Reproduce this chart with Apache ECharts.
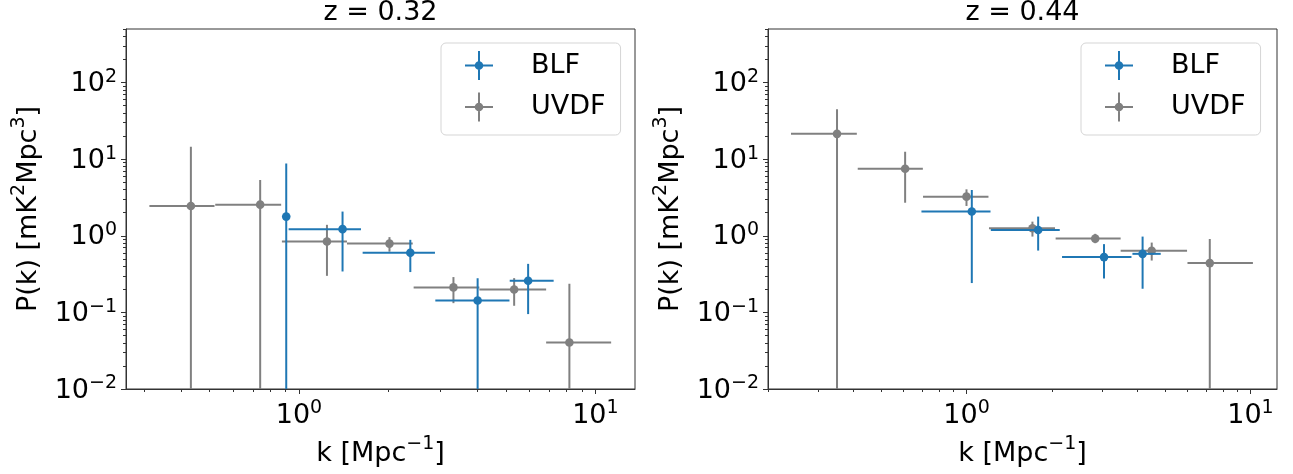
<!DOCTYPE html>
<html><head><meta charset="utf-8">
<script src="https://cdn.jsdelivr.net/npm/echarts@6/dist/echarts.min.js"></script>
<style>html,body{margin:0;padding:0;background:#fff}#c{width:1293px;height:474px}</style>
</head><body><div id="c"></div>
<script>
// ---------- labels ----------
const panelTitles = ['z = 0.32', 'z = 0.44'];
const seriesNames = ['BLF', 'UVDF'];
const seriesColors = ['#1f77b4', '#808080'];
const xAxisTitle = 'k [Mpc|−1|]';
const yAxisTitle = 'P(k) [mK|2|Mpc|3|]';

// ---------- axis limits / ticks ----------
const xLimits = [[0.261, 13.6], [0.2, 12.4]];
const yLimits = [0.01, 500];
const xMajorTicks = [1, 10];
const yMajorTicks = [0.01, 0.1, 1, 10, 100];

// ---------- z = 0.32 : BLF ----------
const blf032_k   = [0.906, 1.403, 2.375, 4.006, 5.93];
const blf032_kLo = [0.906, 0.923, 1.64, 2.884, 5.14];
const blf032_kHi = [0.906, 1.619, 2.876, 5.13, 7.23];
const blf032_P   = [1.78, 1.22, 0.599, 0.143, 0.259];
const blf032_PLo = [0.0001, 0.342, 0.336, 0.0001, 0.095];
const blf032_PHi = [8.8, 2.07, 0.885, 0.28, 0.43];
// ---------- z = 0.32 : UVDF ----------
const uvdf032_k   = [0.432, 0.740, 1.243, 2.02, 3.32, 5.32, 8.17];
const uvdf032_kLo = [0.313, 0.522, 0.876, 1.452, 2.437, 4.06, 6.82];
const uvdf032_kHi = [0.519, 0.871, 1.452, 2.42, 4.06, 6.82, 11.3];
const uvdf032_P   = [2.45, 2.55, 0.84, 0.79, 0.212, 0.199, 0.0404];
const uvdf032_PLo = [0.0001, 0.0001, 0.30, 0.62, 0.132, 0.122, 0.0001];
const uvdf032_PHi = [14.5, 5.35, 1.39, 0.96, 0.289, 0.28, 0.237];
// ---------- z = 0.44 : BLF ----------
const blf044_k   = [1.044, 1.788, 3.05, 4.17];
const blf044_kLo = [0.694, 1.218, 2.17, 3.84];
const blf044_kHi = [1.215, 2.13, 3.81, 4.83];
const blf044_P   = [2.07, 1.19, 0.527, 0.581];
const blf044_PLo = [0.2415, 0.641, 0.277, 0.2035];
const blf044_PHi = [3.96, 1.78, 0.778, 0.976];
// ---------- z = 0.44 : UVDF ----------
const uvdf044_k   = [0.350, 0.608, 1.0, 1.707, 2.84, 4.49, 7.19];
const uvdf044_kLo = [0.241, 0.414, 0.703, 1.20, 2.06, 3.49, 6.0];
const uvdf044_kHi = [0.411, 0.702, 1.195, 2.05, 3.49, 5.98, 10.2];
const uvdf044_P   = [21.4, 7.5, 3.24, 1.256, 0.919, 0.636, 0.44];
const uvdf044_PLo = [0.0001, 2.7, 2.45, 0.976, 0.80, 0.475, 0.0001];
const uvdf044_PHi = [44.9, 12.5, 4.04, 1.53, 1.06, 0.815, 0.911];

// ---------- build ----------
const L = v => Math.log10(v);
const FONT = 'DejaVu Sans';
const AXC = '#333';

function rows(k, kLo, kHi, P, PLo, PHi) {
  return k.map((v, i) => [L(v), L(P[i]), L(kLo[i]), L(kHi[i]), L(PLo[i]), L(PHi[i])]);
}
function minorTicks(lo, hi) {
  const out = [];
  for (let e = Math.floor(L(lo)); e <= Math.ceil(L(hi)); e++) {
    for (let d = 2; d <= 9; d++) {
      const v = d * Math.pow(10, e);
      if (v >= lo * 0.999 && v <= hi * 1.001) out.push(L(v));
    }
  }
  return out;
}
function supRich(str) { // 'a|b|c' -> alternating normal/superscript
  return str.split('|').map((s, i) => (i % 2 ? '{s|' + s + '}' : '{t|' + s + '}')).join('');
}
const expLabel = v => { const e = Math.round(v); return '{b|10}{s|' + (e < 0 ? '−' + (-e) : e) + '}'; };
const tickRich = {
  b: { fontSize: 27, fontFamily: FONT, color: '#000', lineHeight: 30, verticalAlign: 'bottom' },
  s: { fontSize: 19, fontFamily: FONT, color: '#000', lineHeight: 19, verticalAlign: 'top' }
};
const nameRich = {
  t: { fontSize: 27, fontFamily: FONT, color: '#000', lineHeight: 32, verticalAlign: 'bottom' },
  s: { fontSize: 19, fontFamily: FONT, color: '#000', lineHeight: 19, verticalAlign: 'top' }
};

const gridBoxes = [
  { left: 126, top: 29, width: 509, height: 360 },
  { left: 768, top: 29, width: 509, height: 360 }
];
const titleCenters = [380.5, 1022.5];
const legendLefts = [441, 1081];

const grids = [], xAxes = [], yAxes = [], series = [], legends = [], graphics = [];

function renderErr(params, api) {
  const x = api.value(0), y = api.value(1);
  const c = api.coord([x, y]);
  const l = api.coord([api.value(2), y]);
  const r = api.coord([api.value(3), y]);
  const b = api.coord([x, api.value(4)]);
  const t = api.coord([x, api.value(5)]);
  const color = api.visual('color');
  const kids = [];
  if (Math.abs(r[0] - l[0]) > 0.5)
    kids.push({ type: 'line', shape: { x1: l[0], y1: c[1], x2: r[0], y2: c[1] }, style: { stroke: color, lineWidth: 2 } });
  kids.push({ type: 'line', shape: { x1: c[0], y1: b[1], x2: c[0], y2: t[1] }, style: { stroke: color, lineWidth: 2 } });
  kids.push({ type: 'circle', shape: { cx: c[0], cy: c[1], r: 4.3 }, style: { fill: color } });
  return { type: 'group', children: kids };
}

const panelData = [
  [rows(blf032_k, blf032_kLo, blf032_kHi, blf032_P, blf032_PLo, blf032_PHi),
   rows(uvdf032_k, uvdf032_kLo, uvdf032_kHi, uvdf032_P, uvdf032_PLo, uvdf032_PHi)],
  [rows(blf044_k, blf044_kLo, blf044_kHi, blf044_P, blf044_PLo, blf044_PHi),
   rows(uvdf044_k, uvdf044_kLo, uvdf044_kHi, uvdf044_P, uvdf044_PLo, uvdf044_PHi)]
];

for (let p = 0; p < 2; p++) {
  grids.push(Object.assign({ show: true, borderColor: AXC, borderWidth: 1, backgroundColor: 'transparent' }, gridBoxes[p]));
  const xl = xLimits[p];
  // major x axis
  xAxes.push({
    type: 'value', gridIndex: p, min: L(xl[0]), max: L(xl[1]), position: 'bottom',
    axisLine: { show: true, onZero: false, lineStyle: { color: AXC, width: 1 } },
    axisTick: { show: true, length: 5, customValues: xMajorTicks.map(L), lineStyle: { color: AXC, width: 1 } },
    axisLabel: { show: true, margin: 10, customValues: xMajorTicks.map(L), formatter: expLabel, rich: tickRich },
    splitLine: { show: false },
    name: supRich(xAxisTitle), nameLocation: 'middle', nameGap: 46,
    nameTextStyle: { rich: nameRich }
  });
  // minor x axis
  xAxes.push({
    type: 'value', gridIndex: p, min: L(xl[0]), max: L(xl[1]), position: 'bottom',
    axisLine: { show: false, onZero: false }, axisLabel: { show: false }, splitLine: { show: false },
    axisTick: { show: true, length: 3, customValues: minorTicks(xl[0], xl[1]), lineStyle: { color: AXC, width: 1 } }
  });
  yAxes.push({
    type: 'value', gridIndex: p, min: L(yLimits[0]), max: L(yLimits[1]), position: 'left',
    axisLine: { show: true, onZero: false, lineStyle: { color: AXC, width: 1 } },
    axisTick: { show: true, length: 5, customValues: yMajorTicks.map(L), lineStyle: { color: AXC, width: 1 } },
    axisLabel: { show: true, margin: 9, customValues: yMajorTicks.map(L), formatter: expLabel, rich: tickRich },
    splitLine: { show: false },
    name: supRich(yAxisTitle), nameLocation: 'middle', nameGap: 84, nameRotate: 90,
    nameTextStyle: { rich: nameRich }
  });
  yAxes.push({
    type: 'value', gridIndex: p, min: L(yLimits[0]), max: L(yLimits[1]), position: 'left',
    axisLine: { show: false, onZero: false }, axisLabel: { show: false }, splitLine: { show: false },
    axisTick: { show: true, length: 3, customValues: minorTicks(yLimits[0], yLimits[1]), lineStyle: { color: AXC, width: 1 } }
  });
  for (let s = 1; s >= 0; s--) {
    series.push({
      type: 'custom', name: seriesNames[s], xAxisIndex: p * 2, yAxisIndex: p * 2,
      clip: true, z: s === 0 ? 3 : 2,
      itemStyle: { color: seriesColors[s] },
      encode: { x: [0, 2, 3], y: [1, 4, 5] },
      renderItem: renderErr, data: panelData[p][s]
    });
  }
  legends.push({
    show: true, orient: 'vertical', left: legendLefts[p], top: 43,
    data: seriesNames, selectedMode: false,
    icon: 'path://M0,13.5h28v2H0z M13,0h2v29h-2z M9.7,14.5a4.3,4.3 0 1,1 8.6,0a4.3,4.3 0 1,1 -8.6,0z',
    itemWidth: 28, itemHeight: 29, itemGap: 12.5,
    padding: [8, 15, 13.5, 24],
    backgroundColor: '#fff', borderColor: '#d5d5d5', borderWidth: 1, borderRadius: 5,
    textStyle: { fontSize: 27, fontFamily: FONT, color: '#000', lineHeight: 29, padding: [0, 0, 0, 33] }
  });
  graphics.push({
    type: 'text', x: titleCenters[p], y: -1,
    style: { text: panelTitles[p], font: '27px "DejaVu Sans"', fill: '#000', textAlign: 'center', textVerticalAlign: 'top' }
  });
}

const chart = echarts.init(document.getElementById('c'), null, { renderer: 'canvas' });
chart.setOption({
  animation: false,
  backgroundColor: '#fff',
  textStyle: { fontFamily: FONT },
  grid: grids, xAxis: xAxes, yAxis: yAxes, series: series, legend: legends, graphic: graphics
});
</script></body></html>
